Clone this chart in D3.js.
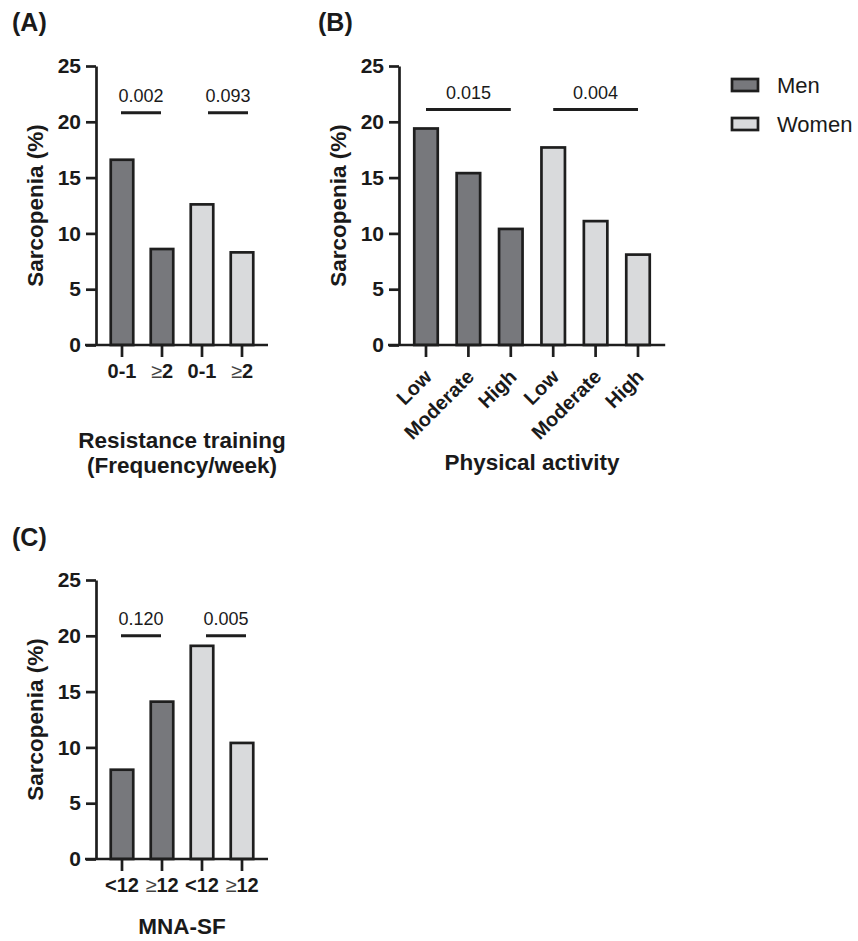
<!DOCTYPE html>
<html>
<head>
<meta charset="utf-8">
<script src="https://cdn.jsdelivr.net/npm/d3@7/dist/d3.min.js"></script>
<style>
  html, body { margin: 0; padding: 0; background: #fff; }
  svg { display: block; }
  text { font-family: "Liberation Sans", Arial, Helvetica, sans-serif; fill: #1a1a1a; }
</style>
</head>
<body>
<svg id="chart" width="858" height="941"></svg>
<script>
// ---------- data ----------
const yTicks = [0, 5, 10, 15, 20, 25];
const seriesNames = ["Men", "Women"];

const aCategories = ["0-1", "≥2", "0-1", "≥2"];
const aGroups = ["Men", "Men", "Women", "Women"];
const aValues = [16.6, 8.6, 12.6, 8.3];
const aPValues = ["0.002", "0.093"];
const aBrackets = [[0, 1], [2, 3]];
const aBracketY = [20.8, 20.8];

const bCategories = ["Low", "Moderate", "High", "Low", "Moderate", "High"];
const bGroups = ["Men", "Men", "Men", "Women", "Women", "Women"];
const bValues = [19.4, 15.4, 10.4, 17.7, 11.1, 8.1];
const bPValues = ["0.015", "0.004"];
const bBrackets = [[0, 2], [3, 5]];
const bBracketY = [21.1, 21.1];

const cCategories = ["<12", "≥12", "<12", "≥12"];
const cGroups = ["Men", "Men", "Women", "Women"];
const cValues = [8.0, 14.1, 19.1, 10.4];
const cPValues = ["0.120", "0.005"];
const cBrackets = [[0, 1], [2, 3]];
const cBracketY = [20.0, 20.0];

// ---------- styles ----------
const fillColor = d3.scaleOrdinal().domain(seriesNames).range(["#77787c", "#d9dadc"]);
const ink = "#1e1e1e";
const lw = 2.7;
const FONT = '"Liberation Sans", Arial, Helvetica, sans-serif';

const svg = d3.select("#chart");

function panel(opt) {
  const g = svg.append("g");
  const y = d3.scaleLinear().domain([0, 25]).range([opt.bottom, opt.top]);
  const idx = d3.range(opt.categories.length);
  const x = d3.scaleBand().domain(idx).range(opt.xRange)
    .paddingInner(opt.padInner).paddingOuter(opt.padInner / 2);

  // panel letter
  g.append("text").attr("x", opt.letterX).attr("y", opt.letterY)
    .attr("font-size", 25).attr("font-weight", "bold").text(opt.letter);

  // bars
  g.selectAll("rect.bar").data(idx).enter().append("rect")
    .attr("class", "bar")
    .attr("x", i => x(i))
    .attr("width", x.bandwidth())
    .attr("y", i => y(opt.values[i]))
    .attr("height", i => y(0) - y(opt.values[i]))
    .attr("fill", i => fillColor(opt.groups[i]))
    .attr("stroke", ink).attr("stroke-width", lw);

  // y axis
  const ya = g.append("g").attr("transform", `translate(${opt.axisX},0)`)
    .call(d3.axisLeft(y).tickValues(yTicks).tickSize(10).tickSizeOuter(0).tickPadding(5));
  ya.select(".domain").attr("stroke", ink).attr("stroke-width", lw);
  ya.selectAll(".tick line").attr("stroke", ink).attr("stroke-width", lw);
  ya.selectAll(".tick text").attr("font-size", 21).attr("font-weight", "bold")
    .attr("fill", ink).style("font-family", FONT);

  // x axis
  const xa = g.append("g").attr("transform", `translate(0,${y(0)})`)
    .call(d3.axisBottom(x).tickSize(12).tickSizeOuter(0).tickPadding(7)
      .tickFormat(i => opt.categories[i]));
  xa.select(".domain").remove();
  xa.selectAll(".tick line").attr("stroke", ink).attr("stroke-width", lw);
  const tt = xa.selectAll(".tick text").attr("font-size", 20).attr("font-weight", "bold")
    .attr("fill", ink).style("font-family", FONT);
  if (opt.rotate) {
    tt.attr("text-anchor", "end").attr("y", 0).attr("dy", 0)
      .attr("transform", "translate(7,33) rotate(-45)");
  }
  tt.each(function () {
    const t = d3.select(this);
    const s = t.text();
    if (s.startsWith("≥")) {
      t.text("");
      t.append("tspan").attr("font-weight", "normal").attr("fill", "#444").text("≥");
      t.append("tspan").text(s.slice(1));
    }
  });
  // x axis baseline line
  g.append("line")
    .attr("x1", opt.axisX - 11).attr("x2", opt.xRange[1] + 6)
    .attr("y1", y(0)).attr("y2", y(0))
    .attr("stroke", ink).attr("stroke-width", lw);

  // significance brackets
  opt.brackets.forEach((b, k) => {
    const sh = opt.bracketShift ? opt.bracketShift[k] : 0;
    const x1 = x(b[0]) + x.bandwidth() / 2 + sh;
    const x2 = x(b[1]) + x.bandwidth() / 2 + sh;
    const yy = y(opt.bracketY[k]);
    g.append("line").attr("x1", x1).attr("x2", x2).attr("y1", yy).attr("y2", yy)
      .attr("stroke", ink).attr("stroke-width", 3);
    g.append("text").attr("x", (x1 + x2) / 2).attr("y", yy - 11)
      .attr("text-anchor", "middle").attr("font-size", 18).text(opt.pvalues[k]);
  });

  // y title
  g.append("text")
    .attr("transform", `translate(${opt.axisX - 53},${(y(0) + y(25)) / 2}) rotate(-90)`)
    .attr("text-anchor", "middle").attr("font-size", 22.5).attr("font-weight", "bold")
    .text("Sarcopenia (%)");

  // x title
  opt.xTitle.forEach((line, k) => {
    g.append("text").attr("x", opt.xTitleX).attr("y", y(0) + opt.xTitleDy + k * 25)
      .attr("text-anchor", "middle").attr("font-size", 22.5).attr("font-weight", "bold")
      .text(line);
  });
}

panel({
  letter: "(A)", letterX: 12, letterY: 31,
  top: 66, bottom: 345, axisX: 96, xRange: [102, 262], padInner: 0.4375,
  categories: aCategories, groups: aGroups, values: aValues,
  pvalues: aPValues, brackets: aBrackets, bracketY: aBracketY, bracketShift: [-1, 6],
  xTitle: ["Resistance training", "(Frequency/week)"], xTitleDy: 103, xTitleX: 182
});

panel({
  letter: "(B)", letterX: 318, letterY: 31,
  top: 66, bottom: 345, axisX: 399, xRange: [404.8, 659.2], padInner: 0.446, rotate: true,
  categories: bCategories, groups: bGroups, values: bValues,
  pvalues: bPValues, brackets: bBrackets, bracketY: bBracketY,
  xTitle: ["Physical activity"], xTitleDy: 125, xTitleX: 532
});

panel({
  letter: "(C)", letterX: 12, letterY: 546,
  top: 580, bottom: 859, axisX: 96, xRange: [102, 262], padInner: 0.4375,
  categories: cCategories, groups: cGroups, values: cValues,
  pvalues: cPValues, brackets: cBrackets, bracketY: cBracketY, bracketShift: [-1, 4],
  xTitle: ["MNA-SF"], xTitleDy: 75, xTitleX: 182
});

// legend
const leg = svg.append("g").attr("transform", "translate(732,0)");
const legY = d3.scalePoint().domain(seriesNames).range([85, 124]);
seriesNames.forEach(s => {
  leg.append("rect").attr("x", 0).attr("y", legY(s) - 6).attr("width", 26).attr("height", 12)
    .attr("fill", fillColor(s)).attr("stroke", ink).attr("stroke-width", lw);
  leg.append("text").attr("x", 45).attr("y", legY(s)).attr("dy", "0.35em")
    .attr("font-size", 22).text(s);
});
</script>
</body>
</html>
